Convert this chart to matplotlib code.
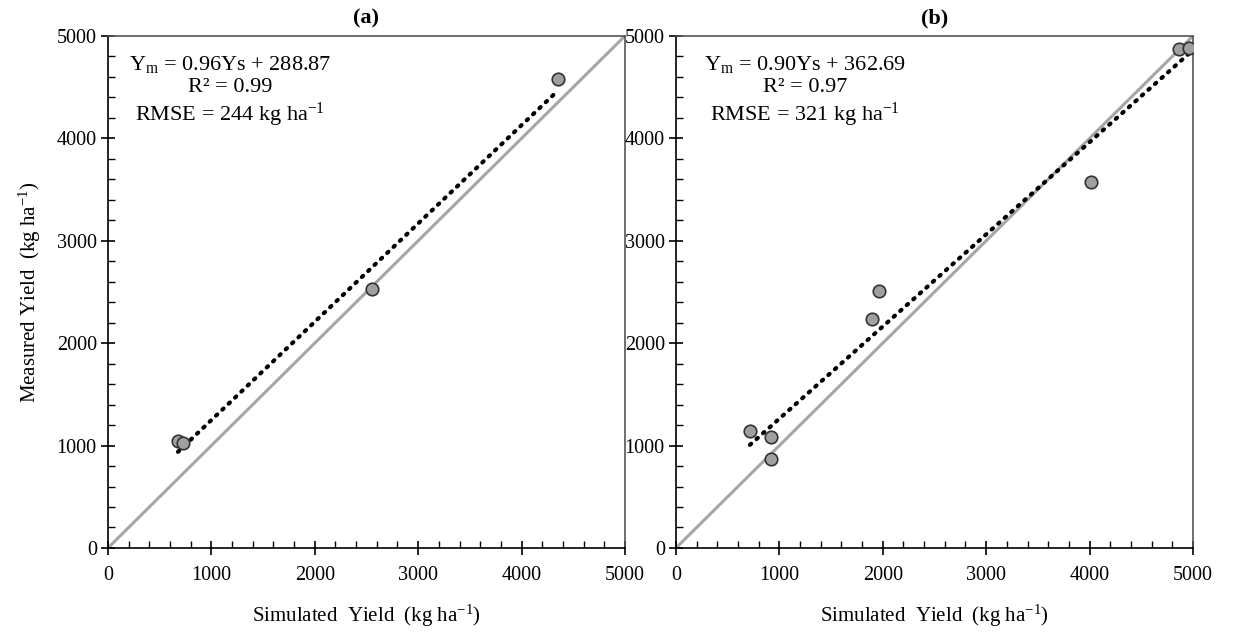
import matplotlib
matplotlib.use("Agg")
import numpy as np
import matplotlib.pyplot as plt
from matplotlib.ticker import MultipleLocator

plt.rcParams["font.family"] = ["Liberation Serif", "DejaVu Serif"]
plt.rcParams["mathtext.fontset"] = "custom"
plt.rcParams["mathtext.rm"] = "Liberation Serif"
plt.rcParams["mathtext.it"] = "Liberation Serif:italic"

# panel (a)
sim_a = [677, 725, 2553, 4352]
meas_a = [1045, 1025, 2529, 4580]
slope_a, icpt_a = 0.96, 288.87
r2_a, rmse_a = 0.99, 244

# panel (b)
sim_b = [716, 919, 919, 1896, 1963, 4010, 4865, 4961]
meas_b = [1143, 1084, 869, 2236, 2510, 3570, 4873, 4883]
slope_b, icpt_b = 0.90, 362.69
r2_b, rmse_b = 0.97, 321

panels = [
    ("(a)", sim_a, meas_a, slope_a, icpt_a, r2_a, rmse_a, 0.236),
    ("(b)", sim_b, meas_b, slope_b, icpt_b, r2_b, rmse_b, 0.25),
]

fig = plt.figure(figsize=(12.38, 6.36), dpi=100)
lefts = [0.0872, 0.546]

for i, (title, xs, ys, m, b, r2, rmse, tx) in enumerate(panels):
    ax = fig.add_axes([lefts[i], 0.1384, 0.4176, 0.805])

    # 1:1 line
    ax.plot([0, 5000], [0, 5000], color="#a6a6a6", lw=2.2, zorder=1)

    # fitted trend
    fx = np.array([min(xs), max(xs)])
    ax.plot(fx, m * fx + b, color="black", lw=3, ls=(0, (0.4, 1.7)),
            dash_capstyle="round", zorder=2)

    ax.plot(xs, ys, "o", ms=9, mfc="#a0a0a0", mec="#333333", mew=1.2, zorder=3)

    ax.set_xlim(0, 5000)
    ax.set_ylim(0, 5000)
    ax.xaxis.set_major_locator(MultipleLocator(1000))
    ax.yaxis.set_major_locator(MultipleLocator(1000))
    ax.xaxis.set_minor_locator(MultipleLocator(200))
    ax.yaxis.set_minor_locator(MultipleLocator(200))
    ax.tick_params(which="major", direction="inout", length=10, width=1.2,
                   labelsize=14.5, pad=3)
    ax.tick_params(which="minor", direction="in", length=5, width=1)
    ax.tick_params(axis="x", which="major", pad=8)
    for sp in ax.spines.values():
        sp.set_linewidth(1.2)
    for sp in ["top", "right"]:
        ax.spines[sp].set_color("#555555")

    ax.set_title(title, fontsize=16, fontweight="bold", pad=9)
    ax.set_xlabel("Simulated  Yield  (kg ha$^{-1}$)", fontsize=15, labelpad=13)
    if i == 0:
        ax.set_ylabel("Measured Yield  (kg ha$^{-1}$)", fontsize=15, labelpad=10)

    txt = ("Y$_{\\mathrm{m}}$ = %.2fYs + %.2f\nR\u00b2 = %.2f\nRMSE = %d kg ha$^{-1}$"
           % (m, b, r2, rmse))
    ax.text(tx, 0.965, txt, transform=ax.transAxes, ha="center", va="top",
            fontsize=16, linespacing=1.2, multialignment="center")

fig.savefig("out.png", dpi=100)
